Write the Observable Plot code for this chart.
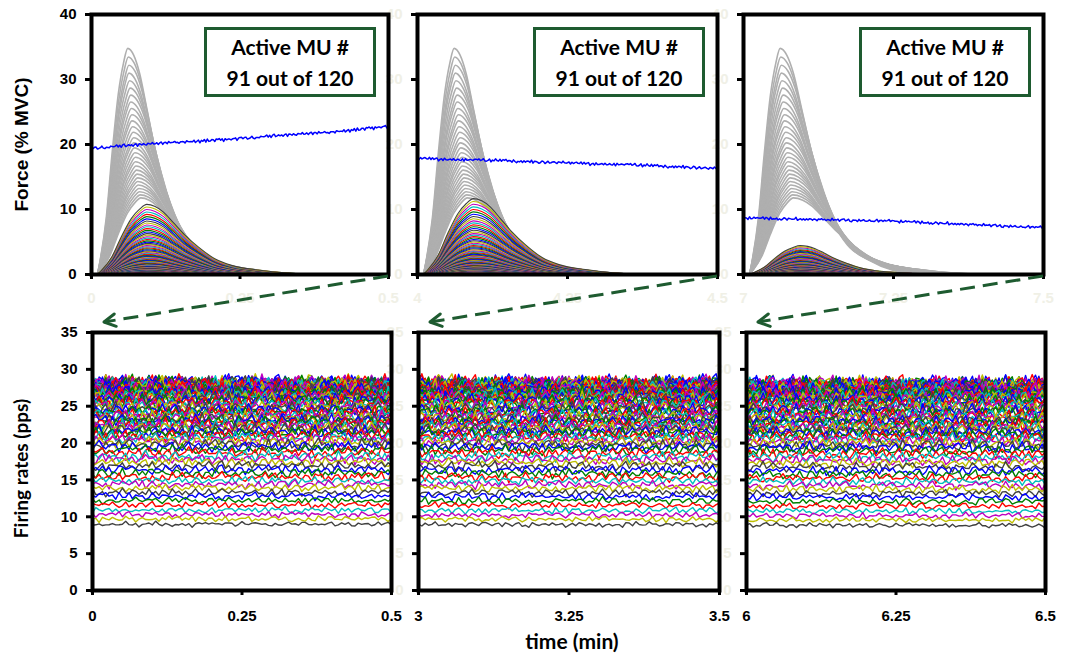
<!DOCTYPE html>
<html><head><meta charset="utf-8">
<script src="https://cdn.jsdelivr.net/npm/d3@7"></script>
<script src="https://cdn.jsdelivr.net/npm/@observablehq/plot@0.6"></script>
<style>
body{margin:0;background:#fff;}
#chart{position:relative;width:1065px;height:657px;overflow:hidden;background:#fff;}
#chart svg.panel{position:absolute;}
.box{position:absolute;box-sizing:border-box;border:3px solid #1e5b30;background:#fff;font-family:Lato,'Open Sans',sans-serif;font-weight:bold;font-size:21px;text-align:center;line-height:31px;padding-top:1px;color:#000;}
</style></head><body><div id="chart"></div>
<script>
// ---------------- data ----------------
const topStarts = [0, 4, 7];          // minutes, top row windows
const bottomStarts = [0, 3, 6];       // minutes, bottom row windows
const windowSpan = 0.5;
const xTickOffsets = [0, 0.25, 0.5];
const forceTicks = [0, 10, 20, 30, 40];
const rateTicks = [0, 5, 10, 15, 20, 25, 30, 35];
const boxLine1 = "Active MU #";
const boxLine2 = "91 out of 120";

const muColors = ["#0000ff", "#008000", "#ff0000", "#00bfbf", "#bf00bf", "#bfbf00", "#404040"];

// twitch peak force (% MVC) of the 91 active units (index = recruitment order)
const activePeaks = [0.35,0.364,0.378,0.393,0.409,0.425,0.441,0.459,0.477,0.496,
0.515,0.535,0.556,0.578,0.601,0.625,0.649,0.675,0.702,0.729,
0.758,0.788,0.819,0.851,0.885,0.92,0.956,0.994,1.033,1.073,
1.116,1.16,1.206,1.253,1.303,1.354,1.407,1.463,1.52,1.58,
1.642,1.707,1.774,1.844,1.917,1.992,2.071,2.152,2.237,2.325,
2.417,2.512,2.611,2.714,2.821,2.932,3.048,3.168,3.293,3.423,
3.557,3.697,3.843,3.995,4.152,4.315,4.485,4.662,4.846,5.037,
5.236,5.442,5.657,5.88,6.111,6.352,6.603,6.863,7.134,7.415,
7.706,8.01,8.326,8.654,8.994,9.349,9.717,10.1,10.5,10.91,11.34];
// twitch peaks and peak times of the 29 units not yet recruited (grey)
const inactivePeaks = [11.79,12.25,12.74,13.24,13.76,14.3,14.87,15.45,16.06,16.69,17.35,18.03,18.74,19.48,20.25,21.05,21.88,22.74,23.64,24.57,25.54,26.55,27.59,28.68,29.81,30.98,32.2,33.47,34.79];
const inactivePeakTimes = [0.083,0.082,0.081,0.08,0.079,0.078,0.078,0.077,0.076,0.075,0.074,0.074,0.073,0.072,0.071,0.071,0.07,0.069,0.068,0.068,0.067,0.066,0.066,0.065,0.064,0.063,0.063,0.062,0.061];
// per window: amplitude factor, peak time and relaxation stretch of active twitches
const activeScale = [0.952, 1.03, 0.393];
const activePeakTime = [0.093, 0.093, 0.0945];
const activeDecay = [1, 1, 0.87];
const inactiveDecay = [1.15, 1.15, 1.28];
const twitchOnset = 0.01;
// normalised twitch shape read from the largest active twitch
const twitchU = [0,0.08,0.29,0.48,0.69,0.86,1,1.17,1.34,1.54,1.77,2.05,2.39,2.72,3.25,3.86,4.7];
const twitchG = [0,0.056,0.25,0.53,0.8,0.935,1,0.97,0.89,0.74,0.565,0.39,0.22,0.13,0.065,0.02,0];

// total force (blue) read along each window
const blueTrendT = [0,0.05,0.1,0.15,0.2,0.25,0.3,0.35,0.4,0.45,0.5];
const blueForce1 = [19.4,19.8,20.1,20.4,20.6,20.9,21.3,21.6,21.9,22.3,22.8];
const blueForce2 = [17.9,17.7,17.6,17.5,17.3,17.2,17.0,16.9,16.7,16.5,16.3];
const blueForce3 = [8.7,8.6,8.5,8.4,8.3,8.2,8.0,7.8,7.6,7.4,7.2];
const blueStart = [14.5, 15.5, 6.5];

// mean firing rates (pps) of the 91 active units
const meanRates = [28.3,28.1,28.2,27.9,28.0,28.2,27.8,28.1,27.9,28.0,
27.7,28.1,27.8,27.6,28.0,27.9,27.5,27.8,27.7,27.4,
27.9,27.6,27.3,27.7,27.5,27.2,27.6,27.1,27.4,27.0,
27.3,26.9,27.2,26.8,27.0,
26.8,26.7,26.5,26.4,26.2,26.1,25.9,25.8,25.6,25.4,25.2,25.0,24.8,24.6,24.4,
24.2,24.0,23.8,23.6,23.4,23.2,23.0,22.8,22.6,22.4,22.2,22.0,21.8,21.5,21.3,
21.0,20.7,20.4,20.1,19.8,19.5,19.1,18.7,18.2,17.8,17.4,16.9,16.4,15.9,15.4,
14.9,14.4,13.9,13.3,12.8,12.2,11.6,10.9,10.3,9.7,9.0];
const rateShift = [0, -0.05, -0.15];
const peakRate = 29.4;
// discharge-rate fluctuation pattern (normalised)
const jitter = [0.42,-0.61,0.15,0.88,-0.34,-0.92,0.27,0.63,-0.12,-0.75,
0.51,0.06,-0.48,0.97,-0.21,-0.66,0.35,0.79,-0.55,0.12,
-0.87,0.44,0.68,-0.29,-0.03,0.91,-0.72,0.23,-0.41,0.57,
0.84,-0.95,0.09,0.31,-0.58,0.74,-0.17,-0.83,0.49,0.02,
-0.36,0.93,-0.64,0.18,0.71,-0.46,-0.08,0.59,-0.99,0.38,
0.26,-0.52,0.81,-0.24,-0.69,0.14,0.96,-0.39,0.47,-0.78,
0.05,0.66,-0.11,-0.89,0.33,0.54,-0.62,0.21,-0.31,0.86,
-0.45,0.08,0.73,-0.97,0.29,-0.14,0.61,-0.56,0.98,-0.27,
-0.71,0.4,0.17,-0.85,0.52,-0.06,0.77,-0.43,0.25,-0.94,
0.64,0.11,-0.33,0.89,-0.68,0.36,-0.19,0.55,-0.79,0.03,0.7];

// ---------------- layout ----------------
const faint = "#f0f0e6";
const ML = 91, MR = 24, MT = 14;
const topFrames = [{l:91,w:297},{l:417,w:300},{l:743,w:300}];
const bottomFrames = [{l:92,w:299},{l:418,w:301},{l:746,w:299}];
const topH = 260, bottomH = 258, bottomTop = 318;
const numFont = "'Liberation Sans', Arial, sans-serif";
const N = jitter.length;
const blueForces = [blueForce1, blueForce2, blueForce3];
const axisFont = {fontSize: 15, fontWeight: "bold", fontFamily: numFont};

function twitchRows(peaks, tpOf, decay, scale, x0, colorOf) {
  const rows = [];
  peaks.forEach((P, i) => {
    const tp = tpOf(i), T = tp - twitchOnset;
    twitchU.forEach((u, k) => {
      const t = u <= 1 ? twitchOnset + u * T : tp + (u - 1) * T * decay;
      rows.push({id: i, t: x0 + t, v: P * scale * twitchG[k], color: colorOf(i)});
    });
  });
  return rows;
}

function axes(yTicks, xTicks, yFill, xFill, xPad) {
  return [
    Plot.axisY({ticks: yTicks, tickSize: 6, tickFormat: () => "", stroke: "black", strokeWidth: 3, label: null}),
    Plot.axisY({ticks: yTicks, tickSize: 0, tickPadding: 15, fill: yFill, stroke: "none", tickFormat: d => String(d), label: null, ...axisFont}),
    Plot.axisX({ticks: xTicks, tickSize: 5, tickFormat: () => "", stroke: "black", strokeWidth: 3, label: null}),
    Plot.axisX({ticks: xTicks, tickSize: 0, tickPadding: xPad, fill: xFill, stroke: "none", tickFormat: d => String(d), label: null, ...axisFont})
  ];
}

const chart = document.getElementById("chart");
const baseStyle = {background: "transparent", overflow: "visible", fontFamily: numFont, fontSize: "15px", fontWeight: "bold", color: "black"};
const tops = [], bottoms = [];

for (let p = 0; p < 3; p++) {
  const x0 = topStarts[p], f = topFrames[p];
  const grey = twitchRows(inactivePeaks, i => inactivePeakTimes[i], inactiveDecay[p], 1, x0, () => "#aaaaaa");
  const active = twitchRows(activePeaks, () => activePeakTime[p], activeDecay[p], activeScale[p], x0, i => muColors[i % 7]);
  const trend = d3.scaleLinear().domain(blueTrendT).range(blueForces[p]);
  const blue = [{t: x0, v: blueStart[p]}];
  for (let j = 0; j <= 200; j++) {
    const r = j * 0.0025;
    blue.push({t: x0 + r, v: trend(r) + 0.3 * (0.6 * jitter[(j + 17 * p) % N] + 0.4 * jitter[(7 * j + 5 * p + 3) % N])});
  }
  const plot = Plot.plot({
    width: ML + f.w + MR, height: MT + topH + 40,
    marginLeft: ML, marginRight: MR, marginTop: MT, marginBottom: 40,
    style: baseStyle,
    x: {domain: [x0, x0 + windowSpan]},
    y: {domain: [0, 40]},
    color: {type: "identity"},
    marks: [
      Plot.line(grey, {x: "t", y: "v", z: "id", stroke: "#afafaf", strokeWidth: 1.6, curve: "monotone-x", clip: true}),
      Plot.line(active, {x: "t", y: "v", z: "id", stroke: "color", strokeWidth: 1.1, curve: "monotone-x", clip: true}),
      Plot.line(blue, {x: "t", y: "v", stroke: "#0000ff", strokeWidth: 1.5, clip: true}),
      ...axes(forceTicks, xTickOffsets.map(o => x0 + o), p === 0 ? "black" : faint, faint, 18),
      Plot.frame({stroke: "black", strokeWidth: 4}),
      p === 0 ? Plot.text(["Force (% MVC)"], {text: d => d, frameAnchor: "left", textAnchor: "middle", lineAnchor: "middle", rotate: -90, dx: -70, fontSize: 19, fontWeight: "bold", fontFamily: numFont, fill: "black"}) : null
    ]
  });
  plot.classList.add("panel");
  plot.style.left = (f.l - ML) + "px";
  plot.style.top = "0px";
  tops.push(plot);
}

for (let p = 0; p < 3; p++) {
  const x0 = bottomStarts[p], f = bottomFrames[p];
  const rows = [];
  meanRates.forEach((m, i) => {
    const amp = 0.045 * m;
    for (let j = 0; j <= 90; j++) {
      const n = 0.65 * jitter[(j + 13 * i + 29 * p) % N] + 0.45 * jitter[(3 * j + 7 * i + 11 * p + 50) % N];
      rows.push({id: i, t: x0 + j * windowSpan / 90, v: Math.min(peakRate, m + rateShift[p] + amp * n), color: muColors[i % 7]});
    }
  });
  const plot = Plot.plot({
    width: ML + f.w + MR, height: MT + bottomH + 62,
    marginLeft: ML, marginRight: MR, marginTop: MT, marginBottom: 62,
    style: baseStyle,
    x: {domain: [x0, x0 + windowSpan]},
    y: {domain: [0, 35]},
    color: {type: "identity"},
    marks: [
      Plot.line(rows, {x: "t", y: "v", z: "id", stroke: "color", strokeWidth: 1.4, clip: true}),
      ...axes(rateTicks, xTickOffsets.map(o => x0 + o), p === 0 ? "black" : faint, "black", 20),
      Plot.frame({stroke: "black", strokeWidth: 4}),
      p === 0 ? Plot.text(["Firing rates (pps)"], {text: d => d, frameAnchor: "left", textAnchor: "middle", lineAnchor: "middle", rotate: -90, dx: -71, dy: 7, fontSize: 19, fontWeight: "bold", fontFamily: "Lato, sans-serif", fill: "black"}) : null,
      p === 1 ? Plot.text(["time (min)"], {text: d => d, frameAnchor: "bottom", lineAnchor: "middle", dx: 3, dy: 52, fontSize: 21, fontWeight: "bold", fontFamily: "Lato, sans-serif", fill: "black"}) : null
    ]
  });
  plot.classList.add("panel");
  plot.style.left = (f.l - ML) + "px";
  plot.style.top = bottomTop + "px";
  bottoms.push(plot);
}

// stack so that each panel's frame lies above the faint labels of the panel to its right
for (let p = 2; p >= 0; p--) { chart.appendChild(tops[p]); chart.appendChild(bottoms[p]); }

// annotation boxes
tops.forEach((plot, p) => {
  const xs = plot.scale("x"), ys = plot.scale("y");
  const left0 = topFrames[p].l - ML;
  const right = left0 + xs.apply(topStarts[p] + windowSpan) - 12;
  const top = ys.apply(40) + 13;
  const box = document.createElement("div");
  box.className = "box";
  box.style.left = (right - 172) + "px";
  box.style.top = top + "px";
  box.style.width = "172px";
  box.style.height = "70px";
  box.innerHTML = boxLine1 + "<br>" + boxLine2;
  chart.appendChild(box);
});

// zoom arrows from each force window to its firing-rate window
const overlay = d3.select(chart).append("svg")
  .attr("width", 1065).attr("height", 657)
  .style("position", "absolute").style("left", 0).style("top", 0).style("pointer-events", "none");
for (let p = 0; p < 3; p++) {
  const t = tops[p], b = bottoms[p];
  const x1 = topFrames[p].l - ML + t.scale("x").apply(topStarts[p] + windowSpan);
  const y1 = t.scale("y").apply(0) + 2;
  const x2 = bottomFrames[p].l - ML + b.scale("x").apply(bottomStarts[p]) + 12;
  const y2 = bottomTop + b.scale("y").apply(35) - 10;
  overlay.append("line").attr("x1", x1).attr("y1", y1).attr("x2", x2).attr("y2", y2)
    .attr("stroke", "#1e5b30").attr("stroke-width", 3).attr("stroke-dasharray", "15 8");
  const a = Math.atan2(y1 - y2, x1 - x2), L = 13, s = 0.5;
  overlay.append("path")
    .attr("d", `M${x2 + L * Math.cos(a + s)},${y2 + L * Math.sin(a + s)}L${x2},${y2}L${x2 + L * Math.cos(a - s)},${y2 + L * Math.sin(a - s)}`)
    .attr("fill", "none").attr("stroke", "#1e5b30").attr("stroke-width", 3).attr("stroke-linecap", "round").attr("stroke-linejoin", "round");
}
</script></body></html>
